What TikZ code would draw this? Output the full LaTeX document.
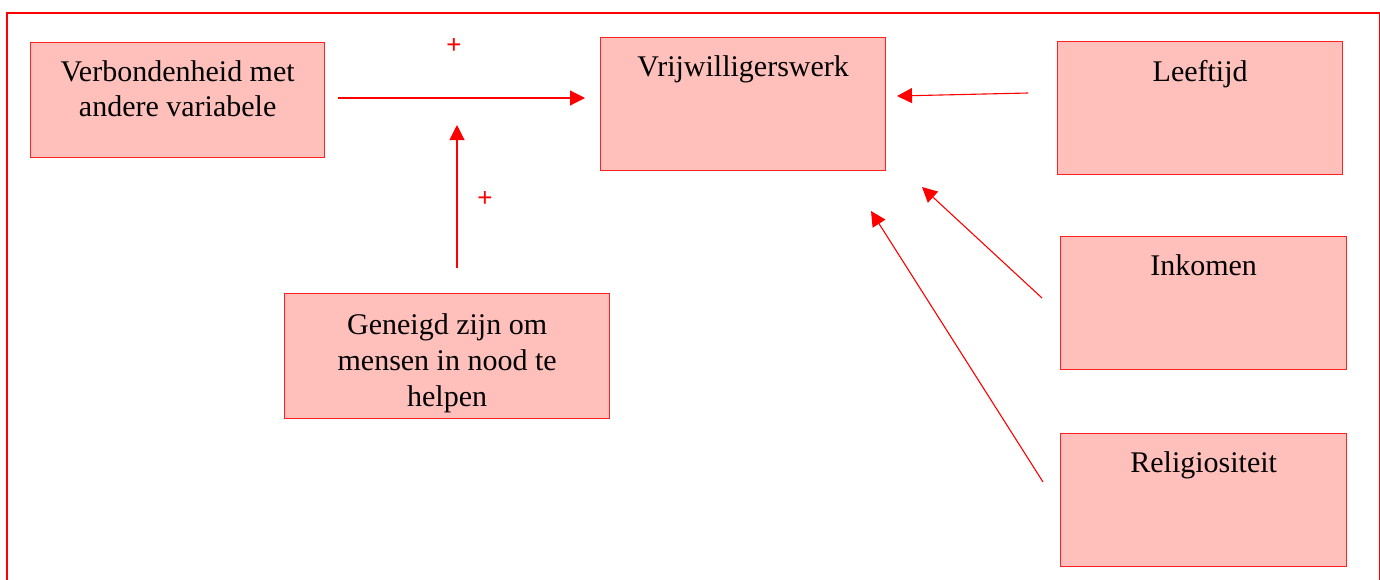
\documentclass[tikz,border=0pt]{standalone}
\usepackage{fontspec}
\setmainfont{Liberation Serif}
\setsansfont{Liberation Sans}
\usepackage{xcolor}
\usetikzlibrary{arrows.meta,positioning}
\definecolor{boxfill}{HTML}{FFBFBA}
\definecolor{boxline}{HTML}{FF2020}

\begin{document}
\begin{tikzpicture}[
    x=0.5pt,y=-0.5pt,
    font=\fontsize{15}{17.5}\selectfont,
    >={Triangle[length=7.5pt,width=7.5pt]},
    flow/.style={->,draw=red,line width=0.55pt},
    var/.style={draw=boxline,fill=boxfill,line width=0.65pt,anchor=north west,
      inner sep=0pt,align=center},
    caption/.style={anchor=north,inner sep=0pt,yshift=-9.3pt,align=center},
    sign/.style={text=red,inner sep=0pt,font=\sffamily\fontsize{13}{15}\selectfont}
  ]
    \useasboundingbox (0,0) rectangle (1380,579);
    \draw[red,line width=1.3pt] (7,600) -- (7,13) -- (1380,13) -- (1380,600);

    \node[var,minimum width=147pt,minimum height=57.5pt,
      label={[caption]north:Verbondenheid met\\andere variabele}] (verb) at (30,42) {};
    \node[var,minimum width=142.5pt,minimum height=66.5pt,
      label={[caption]north:Vrijwilligerswerk}] (vrij) at (600,37) {};
    \node[var,minimum width=142.5pt,minimum height=66.5pt,
      label={[caption]north:Leeftijd}] (leef) at (1057,41) {};
    \node[var,minimum width=143pt,minimum height=66.5pt,
      label={[caption]north:Inkomen}] (inko) at (1060,236) {};
    \node[var,minimum width=143pt,minimum height=66.5pt,
      label={[caption]north:Religiositeit}] (reli) at (1060,433) {};
    \node[var,minimum width=162.5pt,minimum height=62.5pt,
      label={[caption,yshift=-0.8pt,font=\fontsize{15}{18}\selectfont]north:Geneigd zijn om\\mensen in nood te\\helpen}]
      (gene) at (284,293) {};

    \coordinate (verb-out) at (338,98);
    \coordinate (vrij-in) at (585,98);
    \coordinate (gene-out) at (457,268);
    \coordinate (join) at (457,125);
    \coordinate (leef-out) at (1028,93);
    \coordinate (leef-in) at (897,96);
    \coordinate (inko-out) at (1042,298);
    \coordinate (inko-in) at (922,187);
    \coordinate (reli-out) at (1043,482);
    \coordinate (reli-in) at (871,211);

    \draw[flow] (verb-out) -- (vrij-in);
    \draw[flow] (gene-out) -- (join);
    \draw[flow] (leef-out) -- (leef-in);
    \draw[flow] (inko-out) -- (inko-in);
    \draw[flow] (reli-out) -- (reli-in);

    \node[sign] (plus-top) at (454,46) {+};
    \node[sign] (plus-mid) at (485,199) {+};
  \end{tikzpicture}
\end{document}
